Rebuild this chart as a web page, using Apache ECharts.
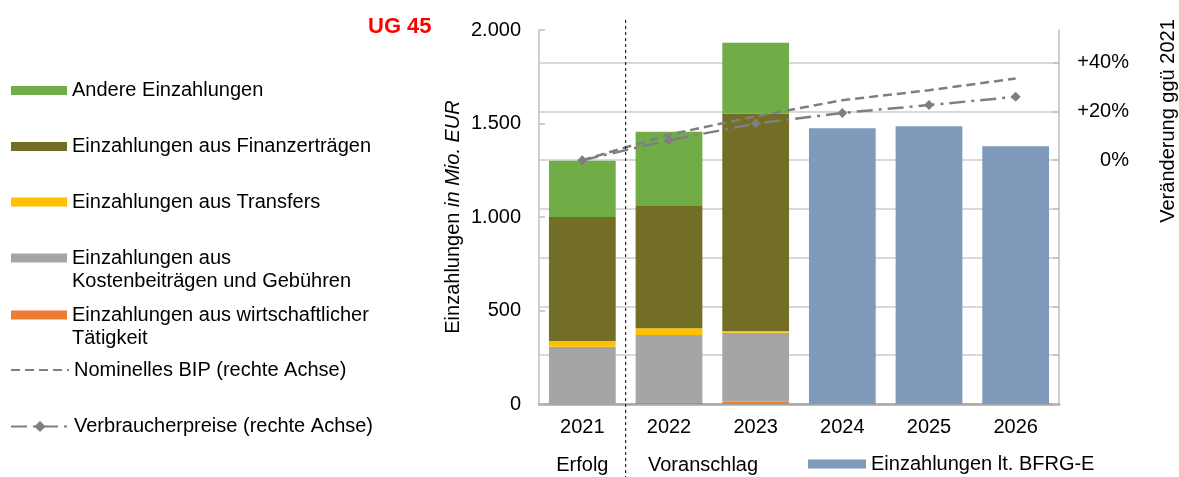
<!DOCTYPE html>
<html>
<head>
<meta charset="utf-8">
<script src="https://cdn.jsdelivr.net/npm/echarts@6/dist/echarts.min.js"></script>
<style>
html,body{margin:0;padding:0;background:#fff;}
#chart{width:1179px;height:477px;}
</style>
</head>
<body>
<div id="chart"></div>
<script>
// ---- data ----
const categories = ['2021', '2022', '2023', '2024', '2025', '2026'];
const wirtschaftlich = [1, 5, 12, null, null, null];
const kosten = [305, 364, 369, null, null, null];
const transfers = [31, 36, 9, null, null, null];
const finanz = [663, 654, 1164, null, null, null];
const andere = [301, 397, 378, null, null, null];
const bfrg = [null, null, null, 1474, 1485, 1378];
const bip = [0, 10.5, 18, 24.6, 28.7, 33.5];
const vpi = [0, 8.2, 15, 19.4, 22.6, 26];
const leftTicks = [0, 500, 1000, 1500, 2000];
const rightTicks = [-100, -80, -60, -40, -20, 0, 20, 40];

const names = {
  andere: 'Andere Einzahlungen',
  finanz: 'Einzahlungen aus Finanzerträgen',
  transfers: 'Einzahlungen aus Transfers',
  kosten: 'Einzahlungen aus\nKostenbeiträgen und Gebühren',
  wirt: 'Einzahlungen aus wirtschaftlicher\nTätigkeit',
  bip: 'Nominelles BIP (rechte Achse)',
  vpi: 'Verbraucherpreise (rechte Achse)',
  bfrg: 'Einzahlungen lt. BFRG-E'
};

const FONT = '"Liberation Sans", Arial, sans-serif';
const colors = {
  andere: '#70ad47', finanz: '#736e25', transfers: '#ffc000',
  kosten: '#a5a5a5', wirt: '#ed7d31', bfrg: '#7f9aba', line: '#7f7f7f'
};

const chart = echarts.init(document.getElementById('chart'), null, {renderer: 'canvas'});

const textStyle = {fontFamily: FONT, fontSize: 20, color: '#000', lineHeight: 20};
const textStyle2 = {fontFamily: FONT, fontSize: 20, color: '#000', lineHeight: 23};
const twoLineIcon = 'path://M0,0H56V9H0Z M0,32L0.01,32';

function barLegend(name, top) {
  return {data: [name], left: 11, top: top, padding: 0, itemWidth: 56, itemHeight: 9,
    icon: 'rect', selectedMode: false, textStyle: textStyle};
}
function twoLineLegend(name, top) {
  return {data: [name], left: 11, top: top, padding: 0, itemWidth: 56, itemHeight: 32,
    icon: twoLineIcon, selectedMode: false, textStyle: textStyle2};
}
function lineLegend(name, top, hideSymbol) {
  const l = {data: [name], left: 10, top: top, padding: 0, itemWidth: 58, itemHeight: 14,
    selectedMode: false, textStyle: textStyle};
  if (hideSymbol) l.itemStyle = {opacity: 0};
  return l;
}

const splitColors = rightTicks.map(() => '#d9d9d9').concat(['rgba(0,0,0,0)']);

const option = {
  animation: false,
  backgroundColor: '#fff',
  textStyle: {fontFamily: FONT},
  grid: {left: 539, right: 120, top: 30, bottom: 73, containLabel: false},
  legend: [
    barLegend(names.andere, 80.5),
    barLegend(names.finanz, 136.5),
    barLegend(names.transfers, 192),
    twoLineLegend(names.kosten, 246.5),
    twoLineLegend(names.wirt, 303.5),
    lineLegend(names.bip, 360, true),
    lineLegend(names.vpi, 416.5, false),
    {data: [names.bfrg], left: 808, top: 454, padding: 0, itemWidth: 58, itemHeight: 9,
      icon: 'rect', selectedMode: false, textStyle: textStyle}
  ],
  xAxis: {
    type: 'category',
    data: categories,
    axisLine: {show: true, lineStyle: {color: '#a6a6a6', width: 2.5}},
    axisTick: {show: false},
    axisLabel: {color: '#000', fontSize: 20, fontFamily: FONT, margin: 13},
    splitLine: {show: false}
  },
  yAxis: [
    {
      type: 'value', min: 0, max: 2000, interval: 500, position: 'left',
      name: 'Einzahlungen {i|in Mio. EUR}',
      nameLocation: 'middle', nameRotate: 90, nameGap: 76,
      nameTextStyle: {color: '#000', fontSize: 20, fontFamily: FONT,
        rich: {i: {fontStyle: 'italic', fontSize: 20, fontFamily: FONT, color: '#000'}}},
      axisLine: {show: true, lineStyle: {color: '#bfbfbf', width: 1.5}},
      axisTick: {show: true, inside: true, length: 6, lineStyle: {color: '#bfbfbf', width: 1.5}},
      axisLabel: {color: '#000', fontSize: 20, fontFamily: FONT, margin: 18,
        formatter: v => leftTicks.indexOf(v) >= 0 ? (v >= 1000 ? (v / 1000).toFixed(3) : String(v)) : ''},
      splitLine: {show: false}
    },
    {
      type: 'value', min: -100, max: 53.4, interval: 20, position: 'right',
      axisLine: {show: true, lineStyle: {color: '#bfbfbf', width: 1.5}},
      axisTick: {show: true, inside: true, length: 6, lineStyle: {color: '#bfbfbf', width: 1.5},
        customValues: rightTicks},
      axisLabel: {color: '#000', fontSize: 20, fontFamily: FONT, margin: 70, align: 'right',
        showMaxLabel: false,
        formatter: v => {
          const r = Math.round(v);
          if (Math.abs(v - r) > 1e-6 || r < 0 || r % 20 !== 0) return '';
          return (r > 0 ? '+' : '') + r + '%';
        }},
      splitLine: {show: true, lineStyle: {color: splitColors, width: 2}}
    }
  ],
  series: [
    {name: names.wirt, type: 'bar', stack: 'a', data: wirtschaftlich, itemStyle: {color: colors.wirt}, barCategoryGap: '23%'},
    {name: names.kosten, type: 'bar', stack: 'a', data: kosten, itemStyle: {color: colors.kosten}},
    {name: names.transfers, type: 'bar', stack: 'a', data: transfers, itemStyle: {color: colors.transfers}},
    {name: names.finanz, type: 'bar', stack: 'a', data: finanz, itemStyle: {color: colors.finanz}},
    {name: names.andere, type: 'bar', stack: 'a', data: andere, itemStyle: {color: colors.andere}},
    {name: names.bfrg, type: 'bar', stack: 'a', data: bfrg, itemStyle: {color: colors.bfrg}},
    {name: names.bip, type: 'line', yAxisIndex: 1, data: bip, symbol: 'none', z: 5,
      lineStyle: {color: colors.line, width: 2.5, type: [9, 5]}, itemStyle: {color: colors.line}},
    {name: names.vpi, type: 'line', yAxisIndex: 1, data: vpi, symbol: 'diamond', symbolSize: 10, z: 6,
      lineStyle: {color: colors.line, width: 2.5, type: [16, 6, 3, 6]}, itemStyle: {color: colors.line}}
  ]
};

chart.setOption(option);

// annotations positioned from the axis scale
const x0 = chart.convertToPixel({xAxisIndex: 0}, categories[0]);
const x1 = chart.convertToPixel({xAxisIndex: 0}, categories[1]);
const sepX = (x0 + x1) / 2;
chart.setOption({
  graphic: [
    {type: 'text', left: 368, top: 16,
      style: {text: 'UG 45', font: 'bold 22px ' + FONT, fill: '#ff0000'}},
    {type: 'text', x: 1168, y: 121, rotation: Math.PI / 2,
      style: {text: 'Veränderung ggü 2021', font: '20px ' + FONT, fill: '#000',
        align: 'center', verticalAlign: 'middle', textAlign: 'center', textVerticalAlign: 'middle'}},
    {type: 'text', x: x0, y: 465,
      style: {text: 'Erfolg', font: '20px ' + FONT, fill: '#000',
        align: 'center', verticalAlign: 'middle', textAlign: 'center', textVerticalAlign: 'middle'}},
    {type: 'text', x: x1 - 21, y: 465,
      style: {text: 'Voranschlag', font: '20px ' + FONT, fill: '#000',
        align: 'left', verticalAlign: 'middle', textAlign: 'left', textVerticalAlign: 'middle'}},
    {type: 'line', shape: {x1: sepX, y1: 20, x2: sepX, y2: 477}, z: 10,
      style: {stroke: '#000', lineWidth: 1, lineDash: [3, 3]}}
  ]
});
</script>
</body>
</html>
